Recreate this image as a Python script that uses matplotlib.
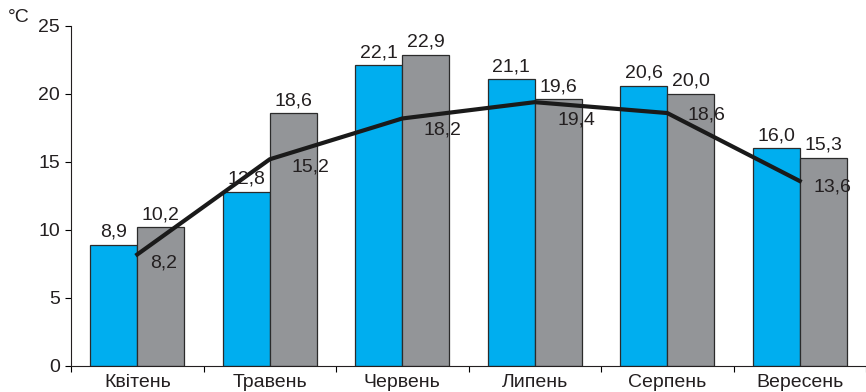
import matplotlib
matplotlib.use("Agg")
import matplotlib.pyplot as plt
import numpy as np

plt.rcParams['font.family'] = ['Liberation Sans', 'DejaVu Sans']

categories = ['Квітень', 'Травень', 'Червень', 'Липень', 'Серпень', 'Вересень']
blue_values = [8.9, 12.8, 22.1, 21.1, 20.6, 16.0]
gray_values = [10.2, 18.6, 22.9, 19.6, 20.0, 15.3]
line_values = [8.2, 15.2, 18.2, 19.4, 18.6, 13.6]
yticks = [0, 5, 10, 15, 20, 25]
unit_label = '°C'

# label offsets (pixels) for line value labels relative to the line points
line_label_dx = [26, 41, 40, 42, 39, 33]
line_label_dy = [-9, -8, -12, -18, -2, -6]

def fmt(v):
    return f"{v:.1f}".replace('.', ',')

fig = plt.figure(figsize=(8.66, 3.92), dpi=100)
ax = fig.add_axes([71/866, 26/392, (866-71)/866, 340/392])

x = np.arange(len(categories))
w = 0.355
blue = '#00AEEF'
gray = '#939598'
edge = '#2b2b2b'
tc = '#231F20'
fs = 14

ax.bar(x - w/2, blue_values, width=w, color=blue, edgecolor=edge, linewidth=0.9, zorder=2)
ax.bar(x + w/2, gray_values, width=w, color=gray, edgecolor=edge, linewidth=0.9, zorder=2)
ax.plot(x, line_values, color='#1a1a1a', linewidth=3.0, zorder=3, solid_joinstyle='miter')

for xi, v in zip(x, blue_values):
    ax.annotate(fmt(v), (xi - w/2, v), xytext=(0, 8), textcoords='offset pixels',
                ha='center', va='baseline', fontsize=fs, color=tc, zorder=4)
for xi, v in zip(x, gray_values):
    ax.annotate(fmt(v), (xi + w/2, v), xytext=(0, 8), textcoords='offset pixels',
                ha='center', va='baseline', fontsize=fs, color=tc, zorder=4)
for xi, v, dx, dy in zip(x, line_values, line_label_dx, line_label_dy):
    ax.annotate(fmt(v), (xi, v), xytext=(dx, dy), textcoords='offset pixels',
                ha='center', va='center', fontsize=fs, color=tc, zorder=4)

ax.set_xlim(-0.5, -0.5 + (866-71)/133.8)
ax.set_ylim(0, 25)
ax.set_yticks(yticks)
ax.set_yticklabels([str(t) for t in yticks], fontsize=fs, color=tc)
ax.set_xticks(x)
ax.set_xticklabels(categories, fontsize=fs, color=tc)
ax.set_xticks(np.arange(len(categories) + 1) - 0.5, minor=True)
ax.tick_params(axis='x', which='major', length=0, pad=6)
ax.tick_params(axis='x', which='minor', length=4, width=0.8, direction='out')
ax.tick_params(axis='y', length=4, width=0.8, direction='out', pad=4)
for s in ['top', 'right']:
    ax.spines[s].set_visible(False)
for s in ['left', 'bottom']:
    ax.spines[s].set_linewidth(0.8)
    ax.spines[s].set_color(tc)

fig.text(19/866, 1 - 18/392, unit_label, ha='center', va='center', fontsize=fs, color=tc)

fig.savefig('out.png', dpi=100)
